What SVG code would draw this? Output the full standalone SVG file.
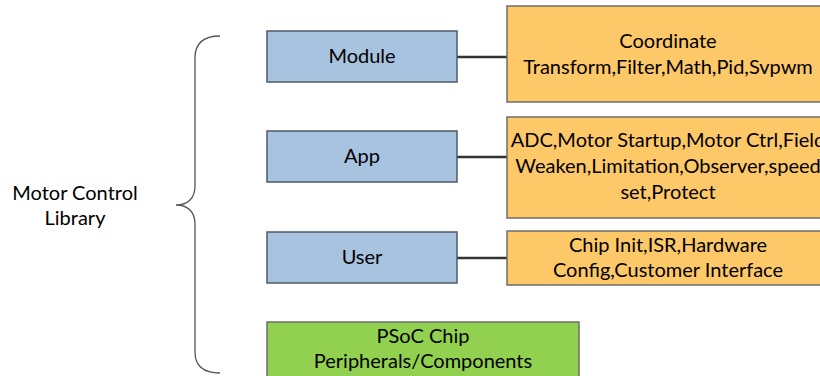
<svg xmlns="http://www.w3.org/2000/svg" width="820" height="376" viewBox="0 0 820 376">
<style>
text{font-family:Lato,"Open Sans","Liberation Sans",sans-serif;font-size:20px;fill:#000;text-anchor:middle}
.blue{fill:#A7C3DF;stroke:#4F5B66;stroke-width:1.5}
.orange{fill:#FDC868;stroke:#6E6E6E;stroke-width:1.5}
.green{fill:#92D050;stroke:#6E6E6E;stroke-width:1.5}
.conn{stroke:#333;stroke-width:2.5;fill:none}
.brace{stroke:#555;stroke-width:1.3;fill:none}
</style>
<rect width="820" height="376" fill="#fff"/>
<g id="library">
<path class="brace" d="M220,36 C204,36 195,43 195,58 L195,186 C195,198 188,205 176,205 C188,205 195,212 195,224 L195,352 C195,366 204,373 220,373"/>
<text x="75" y="200">Motor Control</text>
<text x="75" y="225">Library</text>
</g>
<g id="connectors">
<line class="conn" x1="457" y1="57" x2="507" y2="57"/>
<line class="conn" x1="457" y1="157" x2="507" y2="157"/>
<line class="conn" x1="457" y1="258" x2="507" y2="258"/>
</g>
<g id="module">
<rect class="blue" x="267" y="31" width="190" height="51"/>
<text x="362" y="63">Module</text>
</g>
<g id="app">
<rect class="blue" x="267" y="131" width="190" height="51"/>
<text x="362" y="163">App</text>
</g>
<g id="user">
<rect class="blue" x="267" y="232" width="190" height="51"/>
<text x="362" y="264">User</text>
</g>
<g id="module-detail">
<rect class="orange" x="507" y="6" width="321" height="96"/>
<text x="668" y="48">Coordinate</text>
<text x="668" y="74">Transform,Filter,Math,Pid,Svpwm</text>
</g>
<g id="app-detail">
<rect class="orange" x="507" y="117" width="321" height="101"/>
<text x="668" y="147">ADC,Motor Startup,Motor Ctrl,Field</text>
<text x="668" y="173">Weaken,Limitation,Observer,speed</text>
<text x="668" y="199">set,Protect</text>
</g>
<g id="user-detail">
<rect class="orange" x="507" y="231" width="321" height="54"/>
<text x="668" y="252">Chip Init,ISR,Hardware</text>
<text x="668" y="277">Config,Customer Interface</text>
</g>
<g id="psoc">
<rect class="green" x="267" y="322" width="312" height="60"/>
<text x="423" y="343">PSoC Chip</text>
<text x="423" y="368">Peripherals/Components</text>
</g>
</svg>
